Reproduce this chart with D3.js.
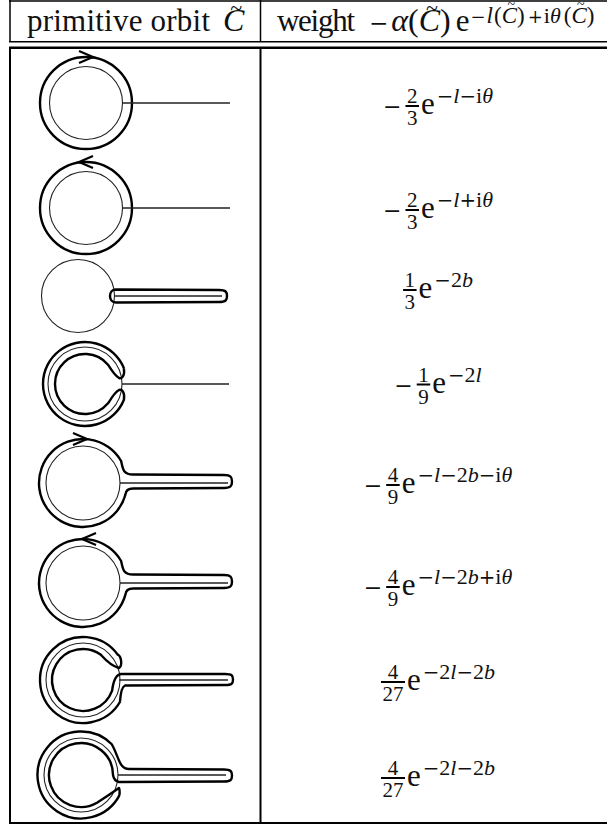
<!DOCTYPE html>
<html>
<head>
<meta charset="utf-8">
<script src="https://cdn.jsdelivr.net/npm/d3@7"></script>
<style>
html, body { margin: 0; padding: 0; background: #fff; overflow: hidden; }
text { font-family: "Liberation Serif", serif; fill: #111; }
</style>
</head>
<body>
<svg id="table" width="607" height="828"></svg>
<script>
const rows = ["a", "b", "c", "d", "e", "f", "g", "h"];
const shapes = ["ring", "ring", "hairpin", "pinched", "stem", "stem", "pinchedTop", "pinchedBottom"];
const arrows = ["right", "left", "", "", "right", "left", "", ""];
const signs = ["−", "−", "", "−", "−", "−", "", ""];
const numerators = ["2", "2", "1", "1", "4", "4", "4", "4"];
const denominators = ["3", "3", "3", "9", "9", "9", "27", "27"];
const exponents = ["−l−iθ", "−l+iθ", "−2b", "−2l", "−l−2b−iθ", "−l−2b+iθ", "−2l−2b", "−2l−2b"];

const svg = d3.select("#table");
const rowY = d3.scaleOrdinal(rows, [103, 208, 296, 384, 483, 583, 680, 775]);
const rowX = d3.scaleOrdinal(rows, [86, 86, 78, 85, 83, 83, 83, 81]);
const barY = d3.scaleOrdinal(rows, [106, 210, 290, 384.5, 485, 587, 682, 778]);

const rad = d => d * Math.PI / 180;

// 表格線
function rule(x1, y1, x2, y2, w) {
    svg.append("line")
        .attr("x1", x1).attr("y1", y1).attr("x2", x2).attr("y2", y2)
        .attr("stroke", "#000").attr("stroke-width", w);
}
rule(9, 1, 607, 1, 1.5);
rule(9, 41.7, 607, 41.7, 1.5);
rule(9, 47.7, 607, 47.7, 2.5);
rule(9, 823, 607, 823, 2);
rule(10, 0, 10, 42, 1.5);
rule(10, 47, 10, 824, 2);
rule(260.5, 0, 260.5, 42, 1.5);
rule(260.5, 47, 260.5, 824, 2);

// 依序排版一串文字，回傳下一個 x
function run(parent, x, y, str, size, italic) {
    const t = parent.append("text")
        .attr("x", x).attr("y", y)
        .attr("font-size", size)
        .attr("font-style", italic ? "italic" : "normal")
        .text(str);
    return x + t.node().getComputedTextLength();
}
// 運算符號用較寬的字型
function op(parent, x, y, str, size) {
    const t = parent.append("text")
        .attr("x", x).attr("y", y)
        .attr("font-size", size)
        .style("font-family", "'DejaVu Serif'")
        .text(str);
    return x + t.node().getComputedTextLength();
}
function exponentRuns(parent, x, y, str, size) {
    for (const ch of str) {
        if (ch === "−" || ch === "+") x = op(parent, x, y, ch, size * 0.9);
        else x = run(parent, x, y, ch, size, "lbθ".includes(ch));
    }
    return x;
}
// 帶波浪號的 C
function tildeC(parent, x, y, size, tildeY, tildeSize) {
    const next = run(parent, x, y, "C", size, true);
    parent.append("text")
        .attr("x", (x + next) / 2 + size * 0.08).attr("y", tildeY)
        .attr("font-size", tildeSize).attr("text-anchor", "middle").text("~");
    return next;
}

// 表頭
const head = svg.append("g");
head.append("text").attr("x", 27).attr("y", 31).attr("font-size", 31)
    .attr("textLength", 183).text("primitive orbit");
tildeC(head, 223, 31, 32, 15, 22);

head.append("text").attr("x", 277).attr("y", 31).attr("font-size", 31)
    .attr("textLength", 78).text("weight");
let wx = op(head, 369, 31, "−", 23);
wx = run(head, wx + 3, 31, "α", 32, true);
wx = run(head, wx, 31, "(", 32);
wx = tildeC(head, wx, 31, 32, 15, 22);
wx = run(head, wx, 31, ")", 32);
wx = run(head, wx + 5, 31, "e", 31);
wx = op(head, wx + 1, 23, "−", 18);
wx = run(head, wx + 1, 23, "l", 23, true);
wx = run(head, wx + 1, 23, "(", 23);
wx = tildeC(head, wx, 23, 23, 9, 14);
wx = run(head, wx, 23, ")", 23);
wx = op(head, wx + 3, 23, "+", 18);
wx = run(head, wx + 1, 23, "i", 22);
wx = run(head, wx, 23, "θ", 22, true);
wx = run(head, wx + 3, 23, "(", 23);
wx = tildeC(head, wx, 23, 23, 9, 14);
run(head, wx, 23, ")", 23);

// 權重公式
rows.forEach((row, i) => {
    const g = svg.append("g");
    const y = barY(row);
    const probe = g.append("g").attr("opacity", 0);
    const signW = signs[i] ? op(probe, 0, 0, signs[i], 22) + 4 : 0;
    const fracW = Math.max(run(probe, 0, 0, numerators[i], 21), run(probe, 0, 0, denominators[i], 21)) + 3;
    const eW = run(probe, 0, 0, "e", 31) + 3;
    const expW = exponentRuns(probe, 0, 0, exponents[i], 22) + 2;
    probe.remove();

    let x = 438.5 - (signW + fracW + eW + expW) / 2;
    if (signs[i]) op(g, x, y + 8, signs[i], 22);
    x += signW;
    g.append("line")
        .attr("x1", x).attr("x2", x + fracW)
        .attr("y1", y).attr("y2", y)
        .attr("stroke", "#000").attr("stroke-width", 2);
    g.append("text").attr("x", x + fracW / 2).attr("y", y - 3)
        .attr("font-size", 21).attr("text-anchor", "middle").text(numerators[i]);
    g.append("text").attr("x", x + fracW / 2).attr("y", y + 19)
        .attr("font-size", 21).attr("text-anchor", "middle").text(denominators[i]);
    x += fracW + 2;
    x = run(g, x, y + 8, "e", 31);
    exponentRuns(g, x + 2, y - 3, exponents[i], 22);
});

// 軌道形狀
function thin(d, w) {
    svg.append("path").attr("d", d).attr("fill", "none")
        .attr("stroke", "#222").attr("stroke-width", w || 1.1);
}
function thick(d) {
    svg.append("path").attr("d", d).attr("fill", "none")
        .attr("stroke", "#000").attr("stroke-width", 2.4)
        .attr("stroke-linejoin", "round");
}
function circlePath(cx, cy, r) {
    const p = d3.path();
    p.arc(cx, cy, r, 0, 2 * Math.PI);
    p.closePath();
    return p.toString();
}
function segment(x1, x2, y) {
    const p = d3.path();
    p.moveTo(x1, y);
    p.lineTo(x2, y);
    return p.toString();
}
// 管狀尾端：往右到 xEnd，再回到 (x0, yBot)
function tubeTo(p, yTop, xEnd, yBot, x0) {
    const mid = (yTop + yBot) / 2;
    p.lineTo(xEnd - 8, yTop + 0.5);
    p.bezierCurveTo(xEnd - 1, yTop + 0.5, xEnd, mid - 4, xEnd, mid);
    p.bezierCurveTo(xEnd, mid + 4, xEnd - 1, yBot - 0.5, xEnd - 8, yBot - 0.5);
    p.lineTo(x0, yBot);
}

const drawShape = {
    ring(cx, cy) {
        thick(circlePath(cx, cy, 46));
        thin(circlePath(cx, cy, 36.5));
        thin(segment(cx + 36.5, cx + 144, cy), 1.3);
    },
    hairpin(cx, cy) {
        thin(circlePath(cx, cy, 36.5));
        const p = d3.path();
        p.moveTo(cx + 38, cy - 6.5);
        tubeTo(p, cy - 6.5, cx + 149, cy + 6.5, cx + 38);
        p.bezierCurveTo(cx + 30, cy + 6.5, cx + 30, cy - 6.5, cx + 38, cy - 6.5);
        thick(p.toString());
        thin(segment(cx + 36, cx + 144, cy), 1.4);
    },
    pinched(cx, cy) {
        thin(circlePath(cx, cy, 37));
        thin(segment(cx + 37, cx + 144, cy), 1.3);
        const p = d3.path();
        p.arc(cx, cy, 42, rad(-22), rad(22 - 360), true);
        p.bezierCurveTo(cx + 40, cy + 8, cx + 37, cy + 5, cx + 34, cy + 6);
        p.quadraticCurveTo(cx + 30, cy + 8, cx + 24, cy + 18);
        p.arc(cx, cy, 30, rad(40), rad(320), false);
        p.quadraticCurveTo(cx + 30, cy - 8, cx + 34, cy - 6);
        p.bezierCurveTo(cx + 37, cy - 5, cx + 40, cy - 8, cx + 38.9, cy - 15.7);
        thick(p.toString());
    },
    stem(cx, cy) {
        thin(circlePath(cx, cy, 37));
        thin(segment(cx + 37, cx + 145, cy), 1.4);
        const p = d3.path();
        p.arc(cx, cy, 44, rad(15), rad(330), false);
        p.bezierCurveTo(cx + 40, cy - 14, cx + 40, cy - 8.5, cx + 50, cy - 8.5);
        tubeTo(p, cy - 8.5, cx + 149, cy + 5.5, cx + 50);
        p.quadraticCurveTo(cx + 43, cy + 5.5, cx + 42.5, cy + 11.4);
        thick(p.toString());
    },
    pinchedTop(cx, cy) {
        thin(circlePath(cx, cy, 37));
        thin(segment(cx + 36, cx + 145, cy), 1.4);
        const p = d3.path();
        p.arc(cx, cy, 43, rad(30), rad(-36 + 360), false);
        p.bezierCurveTo(cx + 38, cy - 24, cx + 40, cy - 15, cx + 36, cy - 12);
        p.quadraticCurveTo(cx + 28, cy - 14, cx + 18, cy - 25);
        p.arc(cx, cy, 31, rad(-54), rad(-340), true);
        p.quadraticCurveTo(cx + 31, cy - 5, cx + 38, cy - 6);
        tubeTo(p, cy - 6.5, cx + 150, cy + 5.5, cx + 42);
        p.quadraticCurveTo(cx + 38, cy + 7, cx + 37, cy + 21.5);
        thick(p.toString());
    },
    pinchedBottom(cx, cy) {
        thin(circlePath(cx, cy, 37));
        thin(segment(cx + 37, cx + 145, cy), 1.4);
        const p = d3.path();
        p.arc(cx, cy, 43.5, rad(28), rad(-45 + 360), false);
        p.bezierCurveTo(cx + 38, cy - 18, cx + 38, cy - 6, cx + 48, cy - 6);
        tubeTo(p, cy - 6, cx + 151, cy + 7, cx + 38);
        p.quadraticCurveTo(cx + 33, cy + 6, cx + 32, cy);
        p.arc(cx, cy, 32, 0, rad(-300), true);
        p.quadraticCurveTo(cx + 28, cy + 20, cx + 38, cy + 13);
        p.quadraticCurveTo(cx + 39, cy + 15, cx + 38.4, cy + 20.4);
        thick(p.toString());
    }
};

// 方向箭頭
const arrowTip = d3.scaleOrdinal(rows, [7, -7, 0, 0, 4, -1, 0, 0]);
function drawArrow(topY, dir, tipX) {
    const sgn = dir === "right" ? 1 : -1;
    const p = d3.path();
    p.moveTo(tipX - sgn * 14, topY - 6);
    p.lineTo(tipX, topY);
    p.lineTo(tipX - sgn * 14, topY + 6);
    svg.append("path").attr("d", p.toString()).attr("fill", "none")
        .attr("stroke", "#000").attr("stroke-width", 2.2);
}

rows.forEach((row, i) => {
    const cx = rowX(row), cy = rowY(row);
    drawShape[shapes[i]](cx, cy);
    if (arrows[i]) {
        const top = shapes[i] === "ring" ? cy - 46 : cy - 44;
        drawArrow(top, arrows[i], cx + arrowTip(row));
    }
});
</script>
</body>
</html>
